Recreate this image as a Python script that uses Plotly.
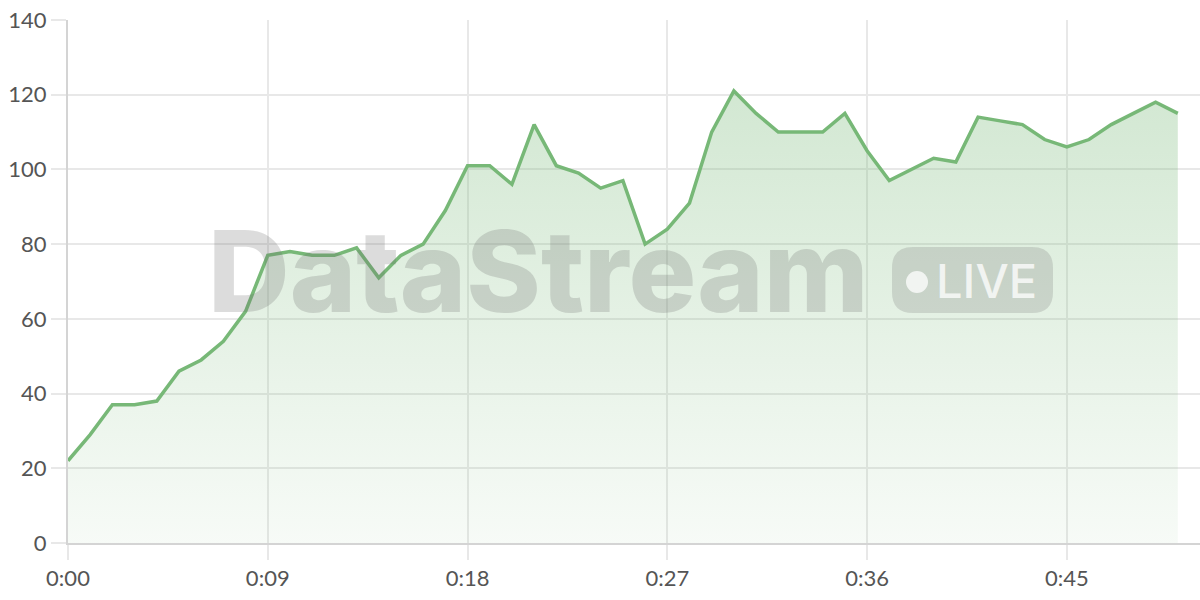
import plotly.graph_objects as go

# minutes since start and stream value
minutos = list(range(0, 51))
valores = [22, 29, 37, 37, 38, 46, 49, 54, 62, 77,
           78, 77, 77, 79, 71, 77, 80, 89, 101, 101,
           96, 112, 101, 99, 95, 97, 80, 84, 91, 110,
           121, 115, 110, 110, 110, 115, 105, 97, 100, 103,
           102, 114, 113, 112, 108, 106, 108, 112, 115, 118,
           115]

ticks_x = [0, 9, 18, 27, 36, 45]
etiquetas_x = ["0:00", "0:09", "0:18", "0:27", "0:36", "0:45"]
ticks_y = [0, 20, 40, 60, 80, 100, 120, 140]

verde = "#77b877"

fig = go.Figure()
fig.add_trace(go.Scatter(
    x=minutos, y=valores, mode="lines",
    line=dict(color=verde, width=3.5),
    fill="tozeroy",
    fillgradient=dict(type="vertical", start=0, stop=121,
                      colorscale=[[0, "rgba(119,184,119,0.06)"],
                                  [1, "rgba(119,184,119,0.33)"]]),
    hoverinfo="skip", showlegend=False,
))

# plot area in pixels, used to place the watermark
L, T, W, H = 68, 20, 1132, 523
def px(x):
    return (x - L) / W
def py(y):
    return (T + H - y) / H

def pill(x0, y0, x1, y1, r):
    rx, ry = r / W, r / H
    a, b, c, d = px(x0), py(y1), px(x1), py(y0)
    return (f"M {a+rx},{b} L {c-rx},{b} Q {c},{b} {c},{b+ry} "
            f"L {c},{d-ry} Q {c},{d} {c-rx},{d} L {a+rx},{d} "
            f"Q {a},{d} {a},{d-ry} L {a},{b+ry} Q {a},{b} {a+rx},{b} Z")

fig.add_shape(type="path", xref="paper", yref="paper",
              path=pill(892, 247, 1053, 313, 21),
              fillcolor="rgba(110,110,110,0.22)", line=dict(width=0), layer="above")
fig.add_shape(type="circle", xref="paper", yref="paper",
              x0=px(906), x1=px(928), y0=py(293), y1=py(271),
              fillcolor="rgba(255,255,255,0.75)", line=dict(width=0), layer="above")

fig.add_annotation(x=px(206), y=py(271), xref="paper", yref="paper",
                   text="DataStream", showarrow=False, xanchor="left", yanchor="middle",
                   font=dict(family="Inter", size=113, color="rgba(110,110,110,0.24)", weight=800))
fig.add_annotation(x=px(934), y=py(280), xref="paper", yref="paper",
                   text="LIVE", showarrow=False, xanchor="left", yanchor="middle",
                   font=dict(family="Inter", size=47, color="rgba(255,255,255,0.75)", weight=500))

fig.update_layout(
    width=1200, height=600,
    margin=dict(l=68, r=0, t=20, b=57),
    plot_bgcolor="white", paper_bgcolor="white",
    font=dict(family="Lato", size=22, color="#555555"),
)
axis_style = dict(showgrid=True, gridcolor="#e8e8e8", gridwidth=1.5,
                  ticks="outside", ticklen=15, tickcolor="#e8e8e8", tickwidth=1.5,
                  showline=True, linecolor="#d4d4d4", linewidth=2,
                  zeroline=False, automargin=False,
                  tickfont=dict(family="Lato", size=22, color="#555555"))
fig.update_xaxes(range=[0, 51], tickvals=ticks_x, ticktext=etiquetas_x, **axis_style)
fig.update_yaxes(range=[0, 140], tickvals=ticks_y, **axis_style)

# drop the default page margin so the figure sits at the window corner
fig.write_html("out.html", config={"displayModeBar": False},
               post_script="document.body.style.margin='0';")
